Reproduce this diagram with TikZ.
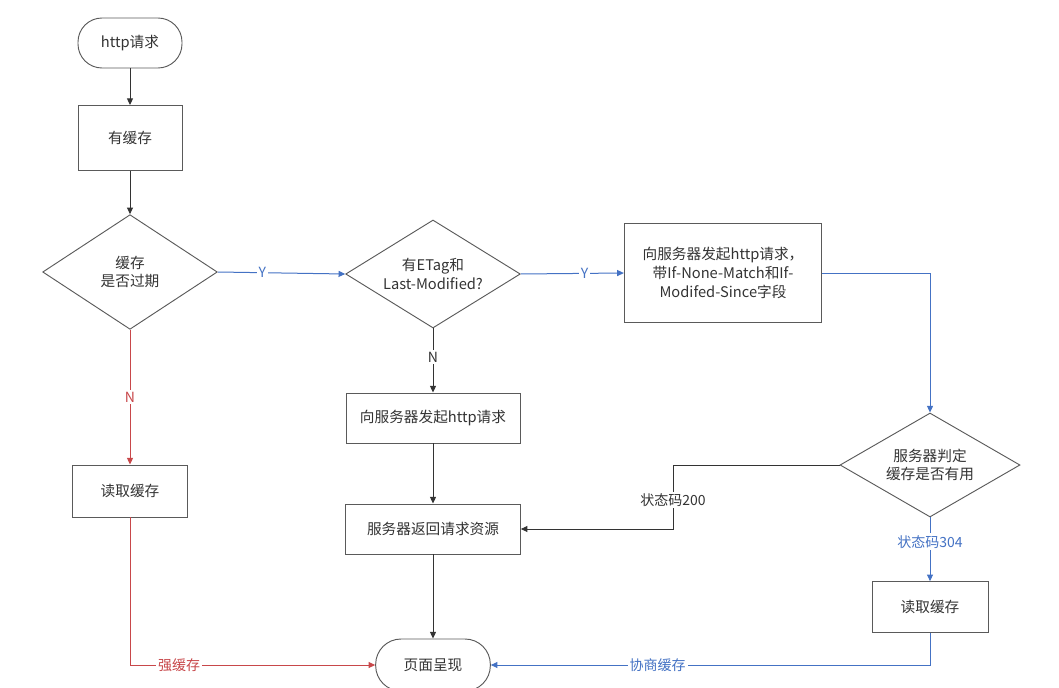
\documentclass[tikz,border=0pt]{standalone}
\usepackage{fontspec}
\setmainfont{Noto Sans CJK SC}
\usetikzlibrary{shapes.geometric,arrows.meta}
\definecolor{cblue}{HTML}{4472C4}
\definecolor{cred}{HTML}{C8474A}
\definecolor{cgray}{HTML}{5A5A5A}
\definecolor{ctext}{HTML}{333333}
\tikzset{
  base/.style={draw=cgray, line width=0.7pt, font=\fontsize{11}{14}\selectfont, text=ctext, align=center, inner sep=0pt},
  box/.style={base, rectangle},
  term/.style={base, rectangle, rounded corners=18pt},
  dia/.style={base, diamond, aspect=2},
  arr/.style={line width=0.75pt, -{Triangle[length=5pt,width=4.5pt]}},
  blk/.style={arr, draw=ctext},
  blu/.style={arr, draw=cblue},
  rd/.style={arr, draw=cred},
  lab/.style={fill=white, inner sep=1.5pt, font=\fontsize{10.5}{12}\selectfont},
}
\begin{document}
\begin{tikzpicture}[x=0.75pt,y=-0.75pt]
\useasboundingbox (0,0) rectangle (1059,688);
\node[term, minimum width=78pt, minimum height=37.5pt] (start) at (130,43) {http请求};
\node[box, minimum width=78pt, minimum height=48.75pt] (has) at (130,138) {有缓存};
\node[dia, minimum width=131pt, minimum height=86pt] (d1) at (130,272) {缓存\\是否过期};
\node[box, minimum width=86pt, minimum height=39pt] (readL) at (130,491) {读取缓存};
\node[dia, minimum width=131pt, minimum height=81pt] (d2) at (433,274) {有ETag和\\Last-Modified?};
\node[box, minimum width=130.5pt, minimum height=37.5pt] (req) at (433,418) {向服务器发起http请求};
\node[box, minimum width=131pt, minimum height=37.5pt] (ret) at (433,529) {服务器返回请求资源};
\node[box, minimum width=148pt, minimum height=74pt] (rb) at (723,273) {向服务器发起http请求，\\带If-None-Match和If-\\Modifed-Since字段};
\node[dia, minimum width=135pt, minimum height=78pt] (d3) at (930,465) {服务器判定\\缓存是否有用};
\node[box, minimum width=87pt, minimum height=38pt] (readR) at (930,607) {读取缓存};
\node[term, minimum width=86pt, minimum height=39pt, rounded corners=19pt] (page) at (433,665) {页面呈现};
\coordinate (k) at (673,500);

\draw[blk] (start) -- (has);
\draw[blk] (has) -- (d1);
\draw[blu] (d1.east) -- node[lab, pos=0.35, text=cblue]{Y} (d2.west);
\draw[blu] (d2.east) -- node[lab, pos=0.62, text=cblue]{Y} (rb.west);
\draw[blk] (d2.south) -- node[lab, pos=0.45, text=ctext]{N} (req.north);
\draw[rd] (d1.south) -- node[lab, pos=0.5, text=cred]{N} (readL.north);
\draw[blk] (req) -- (ret);
\draw[blu] (rb.east) -| (d3.north);
\draw[blk] (d3.west) -| (k) |- (ret.east);
\node[lab, text=ctext] (s200) at (k) {状态码200};
\draw[blu] (d3.south) -- node[lab, pos=0.38, text=cblue]{状态码304} (readR.north);
\draw[blk] (ret) -- (page);
\draw[rd] (readL.south) |- node[lab, pos=0.6, text=cred]{强缓存} (page.west);
\draw[blu] (readR.south) |- node[lab, pos=0.81, text=cblue]{协商缓存} (page.east);
\end{tikzpicture}
\end{document}
